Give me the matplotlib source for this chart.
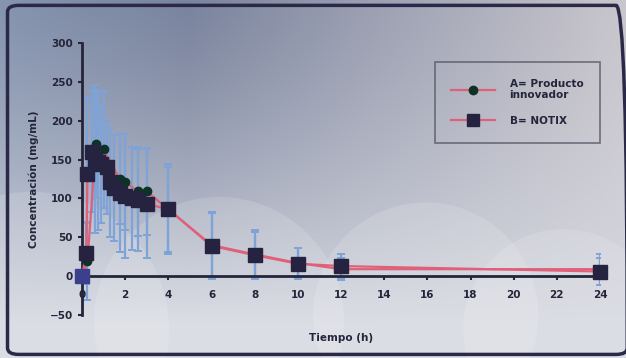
import numpy as np
import matplotlib.pyplot as plt
from matplotlib.patches import FancyBboxPatch, Ellipse

# Serie A (Producto innovador)
t_a = [0, 0.25, 0.65, 1.0, 1.75, 2.0, 2.6, 3.0, 4, 6, 8, 10, 12, 24]
c_a = [0, 19, 170, 163, 125, 121, 109, 109, 86, 40, 28, 17, 9, 9]
sd_a = [0, 50, 70, 75, 58, 62, 57, 56, 58, 42, 32, 19, 14, 20]

# Serie B (NOTIX)
t_b = [0, 0.2, 0.25, 0.45, 0.6, 0.75, 0.9, 1.15, 1.3, 1.5, 1.75, 2.0, 2.3, 2.6, 3.0, 4, 6, 8, 10, 12, 24]
c_b = [0, 30, 131, 160, 151, 147, 144, 140, 121, 113, 107, 103, 100, 98, 93, 86, 39, 27, 16, 13, 6]
sd_b = [0, 40, 100, 78, 95, 88, 75, 60, 70, 68, 76, 80, 66, 65, 70, 55, 42, 30, 20, 15, 18]

xticks = list(range(0, 26, 2))
yticks = [-50, 0, 50, 100, 150, 200, 250, 300]

pink = '#e0607a'
navy = '#25233f'
green = '#0e3326'
errblue = '#7ea3d8'
ink = '#25253a'

fig = plt.figure(figsize=(6.26, 3.58), dpi=100)

# fondo nublado
bg = fig.add_axes([0, 0, 1, 1], zorder=-2)
bg.set_axis_off()
xx, yy = np.meshgrid(np.linspace(0, 1, 300), np.linspace(0, 1, 200))
c_left = np.array([0x86, 0x94, 0xaf]) / 255
c_mid = np.array([0x7a, 0x84, 0x9e]) / 255
c_right = np.array([0xc9, 0xc6, 0xcd]) / 255
w = np.clip(xx / 0.3, 0, 1)[..., None]
w2 = np.clip((xx - 0.3) / 0.7, 0, 1)[..., None]
top = np.where(xx[..., None] < 0.3, c_left * (1 - w) + c_mid * w, c_mid * (1 - w2) + c_right * w2)
white = np.array([0.84, 0.85, 0.88])
v = np.clip(yy * 1.1, 0, 1)[..., None] ** 1.3
img = top * (1 - v) + white * v
bg.imshow(img, extent=[0, 1, 0, 1], origin='upper', aspect='auto')
for cx, cy, r in [(0.05, 0.08, 0.22), (0.35, 0.1, 0.2), (0.68, 0.12, 0.18), (0.9, 0.08, 0.16)]:
    bg.add_patch(Ellipse((cx, cy), r * 2, r * 2 * 626 / 358, color='white', alpha=0.14, lw=0))
bg.set_xlim(0, 1)
bg.set_ylim(0, 1)
bg.add_patch(FancyBboxPatch((0.012, 0.01), 0.99, 0.975, boxstyle='round,pad=0,rounding_size=0.018',
                            fc='none', ec='#2a2a48', lw=2.5, transform=bg.transAxes))

ax = fig.add_axes([0.131, 0.120, 0.8275, 0.760])
ax.patch.set_alpha(0)

ax.errorbar(t_b, c_b, yerr=sd_b, fmt='none', ecolor=errblue, elinewidth=1.6, capsize=3, capthick=1.4, zorder=2)
ax.errorbar(t_a, c_a, yerr=sd_a, fmt='none', ecolor=errblue, elinewidth=1.6, capsize=3, capthick=1.4, zorder=2)

ax.plot(t_a, c_a, color=pink, lw=1.6, zorder=3, clip_on=False)
ax.plot(t_a[1:8], c_a[1:8], 'o', color=green, ms=6, zorder=4, clip_on=False)
ax.plot(t_b, c_b, color=pink, lw=1.6, zorder=3, clip_on=False)
ax.plot(t_b[1:], c_b[1:], 's', color=navy, ms=9.5, zorder=5, clip_on=False)
ax.plot(t_b[0], c_b[0], 's', color='#3c3f8c', ms=9.5, zorder=5, clip_on=False)

ax.set_xlim(0, 24)
ax.set_ylim(-50, 300)
for s in ['top', 'right']:
    ax.spines[s].set_visible(False)
ax.spines['bottom'].set_position(('data', 0))
ax.spines['bottom'].set_color(ink)
ax.spines['left'].set_color(ink)
ax.spines['bottom'].set_linewidth(2)
ax.spines['left'].set_linewidth(2)
ax.set_xticks(xticks)
ax.set_yticks(yticks)
ax.tick_params(colors=ink, length=3, width=1.5, labelsize=7.5)
ax.tick_params(axis='x', pad=7)
for lab in ax.get_xticklabels() + ax.get_yticklabels():
    lab.set_fontweight('bold')
    lab.set_color(ink)

ax.set_ylabel('Concentración (mg/mL)', fontsize=7.5, fontweight='bold', color=ink, labelpad=8)
ax.text(0.5, -0.085, 'Tiempo (h)', transform=ax.transAxes, ha='center', va='center',
        fontsize=7.5, fontweight='bold', color=ink)

h_a, = ax.plot([], [], color=pink, lw=1.6, marker='o', mfc=green, mec=green, ms=6)
h_b, = ax.plot([], [], color=pink, lw=1.6, marker='s', mfc=navy, mec=navy, ms=9)
leg = ax.legend([h_a, h_b], ['A= Producto\ninnovador', 'B= NOTIX'], loc='upper right',
                bbox_to_anchor=(1.0, 0.93), frameon=True, fancybox=False, prop={'weight': 'bold', 'size': 7.5},
                labelcolor=ink, borderpad=1.6, labelspacing=1.5, handlelength=4.2, handletextpad=1.4,
                borderaxespad=0)
leg.get_frame().set_facecolor('none')
leg.get_frame().set_edgecolor('#555566')
leg.get_frame().set_linewidth(1.2)

fig.savefig('out.png', dpi=100)
